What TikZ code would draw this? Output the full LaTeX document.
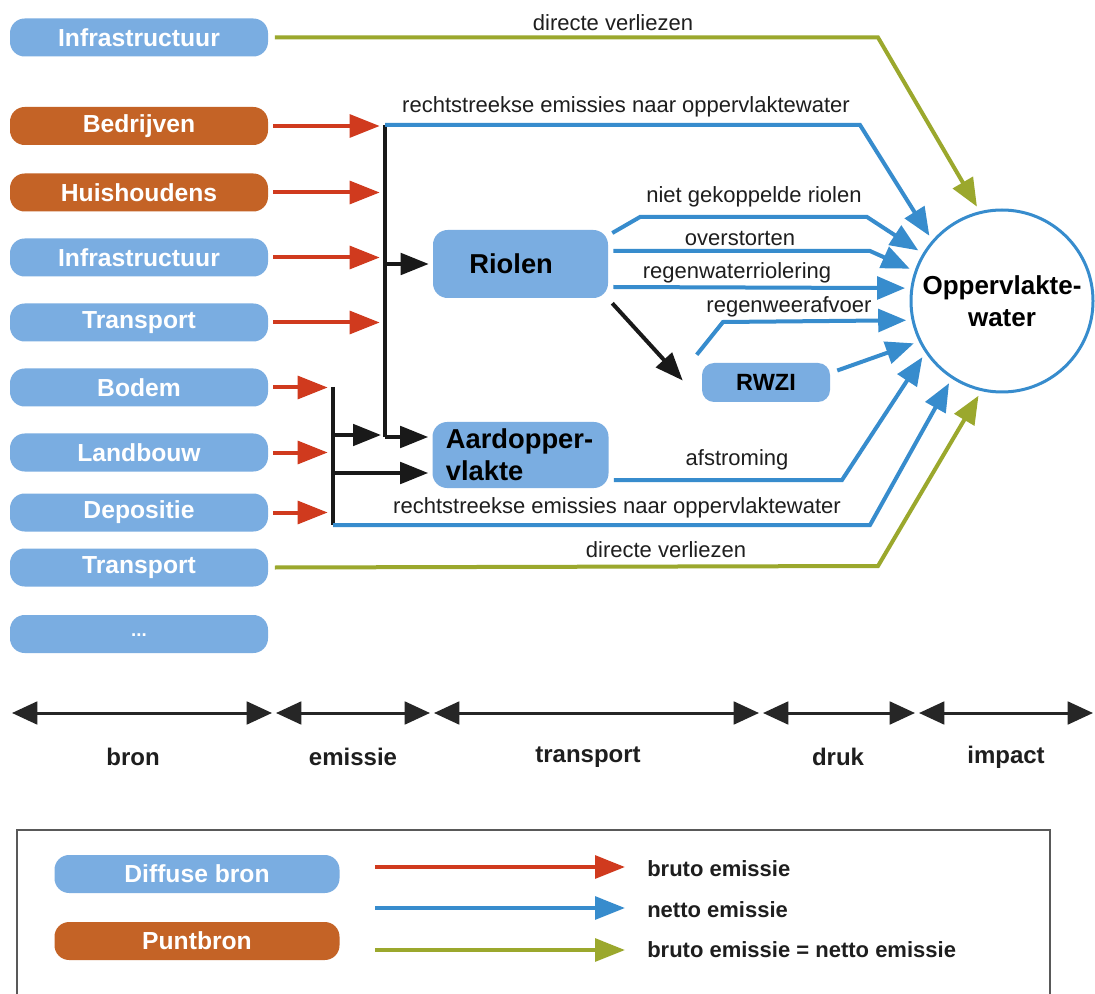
\documentclass[tikz,border=0pt]{standalone}
\usepackage{fontspec}
\setmainfont{Liberation Sans}
\usetikzlibrary{arrows.meta,calc}
\definecolor{boxblue}{RGB}{122,173,225}
\definecolor{ptorange}{RGB}{196,99,38}
\definecolor{lblue}{RGB}{55,140,205}
\definecolor{lred}{RGB}{208,58,30}
\definecolor{olive}{RGB}{155,168,45}
\definecolor{txt}{RGB}{30,30,30}
\begin{document}
\begin{tikzpicture}[x=0.75pt,y=-0.75pt,
  src/.style={rounded corners=11pt, minimum width=193.5pt, minimum height=28.5pt, inner sep=0pt, text=white, font=\fontsize{18.5}{20}\selectfont\bfseries},
  diff/.style={src, fill=boxblue},
  pnt/.style={src, fill=ptorange},
  proc/.style={fill=boxblue, rounded corners=11pt, inner sep=0pt, text=black},
  lab/.style={font=\fontsize{16.5}{18}\selectfont, text=txt, inner sep=0pt},
  redar/.style={draw=lred, line width=3pt, -{Triangle[length=22.5pt,width=17pt]}, shorten >=4pt},
  bluear/.style={draw=lblue, line width=3pt, -{Triangle[length=21pt,width=17pt]}, shorten >=4pt},
  greenar/.style={draw=olive, line width=3pt, -{Triangle[length=21pt,width=17pt]}, shorten >=4pt},
  blk/.style={draw=black!90, line width=3pt},
  blkar/.style={blk, -{Triangle[length=21pt,width=16pt]}, shorten >=3pt},
  tl/.style={draw=black!85, line width=2.25pt, {Triangle[length=19pt,width=17pt]}-{Triangle[length=19pt,width=17pt]}},
  tlab/.style={font=\fontsize{18}{20}\selectfont\bfseries, text=txt},
  ltext/.style={font=\fontsize{16.5}{18}\selectfont\bfseries, text=txt, anchor=west, inner sep=0pt}
]
\useasboundingbox (0,0) rectangle (1095,994);
\fill[white] (0,0) rectangle (1095,994);

% source boxes
\node[diff] (inf1) at (139,37.5) {Infrastructuur};
\node[pnt]  (bed)  at (139,126) {Bedrijven};
\node[pnt]  (hui)  at (139,192.5) {Huishoudens};
\node[diff] (inf2) at (139,257.5) {Infrastructuur};
\node[diff] (tra1) at (139,322.5) {Transport};
\node[diff] (bod)  at (139,387.5) {Bodem};
\node[diff] (lan)  at (139,452.5) {Landbouw};
\node[diff] (dep)  at (139,512.5) {Depositie};
\node[diff] (tra2) at (139,567.5) {Transport};
\node[diff] (dots) at (139,634) {\fontsize{14}{15}\selectfont\raisebox{-4pt}{...}};

% process nodes
\node[proc, minimum width=131.25pt, minimum height=51pt, font=\fontsize{20.5}{22}\selectfont\bfseries] (rio) at (520.5,264) {Riolen\hspace*{14pt}};
\node[proc, text width=112pt, inner xsep=10pt, minimum height=49.5pt, align=left, font=\fontsize{20.5}{24}\selectfont\bfseries] (aard) at (520.5,455) {Aardopper-\\vlakte};
\node[proc, rounded corners=9pt, minimum width=96pt, minimum height=29.25pt, font=\fontsize{17.6}{19}\selectfont\bfseries] (rwzi) at (766,382.5) {RWZI};
\node[circle, draw=lblue, line width=2.25pt, minimum size=136.5pt, inner sep=0pt, align=center, text=black, font=\fontsize{19.5}{24}\selectfont\bfseries] (circ) at (1002,301) {Oppervlakte-\\water};

% bus coordinates
\coordinate (aTop) at (385,125);
\coordinate (aBot) at (385,437);
\coordinate (bTop) at (333,387);
\coordinate (bBot) at (333,525);
\coordinate (bMid1) at (333,435);
\coordinate (bMid2) at (333,473);

% red arrows
\draw[redar] ([xshift=3.75pt]bed.east) -- (bed.east -| aTop);
\draw[redar] ([xshift=3.75pt]hui.east) -- (hui.east -| aTop);
\draw[redar] ([xshift=3.75pt]inf2.east) -- (inf2.east -| aTop);
\draw[redar] ([xshift=3.75pt]tra1.east) -- (tra1.east -| aTop);
\draw[redar] ([xshift=3.75pt]bod.east) -- (bod.east -| bTop);
\draw[redar] ([xshift=3.75pt]lan.east) -- (lan.east -| bTop);
\draw[redar] ([xshift=3.75pt]dep.east) -- (dep.east -| bTop);

% black buses
\draw[blk] (aTop) -- (aBot);
\draw[blk] (bTop) -- (bBot);
\draw[blkar] (rio.west -| aTop) -- (rio.west);
\draw[blkar] (aBot) -- (aBot -| aard.west);
\draw[blkar] (bMid1) -- (bMid1 -| aTop);
\draw[blkar] (bMid2) -- (bMid2 -| aard.west);
\draw[blkar, shorten >=0pt] ($(rio.south east)+(4,5)$) -- ($(rwzi.west)+(-19,-2)$);

% blue lines
\draw[bluear] (aTop) -- (860,125) -- (circ.139);
\draw[bluear] (bBot) -- (870,525) -- (circ.237);
\draw[bluear] ($(rio.east)+(4,-31)$) -- (640,217) -- (867,217) -- (circ.149);
\draw[bluear] ($(rio.east)+(5,-13)$) -- (870,251) -- (circ.161);
\draw[bluear] ($(rio.east)+(5,23)$) -- (circ.172);
\draw[bluear] ($(rwzi.north west)+(-5,-8)$) -- (723,322) -- (circ.192);
\draw[bluear] ($(rwzi.east)+(7,-12)$) -- (circ.206);
\draw[bluear] ($(aard.east)+(5,25)$) -- (842,480) -- (circ.214);

% green lines
\draw[greenar] ([xshift=5pt]inf1.east) -- (878,37.5) -- (circ.104);
\draw[greenar] ([xshift=5pt]tra2.east) -- (878,566) -- (circ.257);

% labels
\node[lab] (l1) at (613,23) {directe verliezen};
\node[lab] (l2) at (626,107) {rechtstreekse emissies naar oppervlaktewater};
\node[lab] (l3) at (754,197) {niet gekoppelde riolen};
\node[lab] (l4) at (740,238) {overstorten};
\node[lab] (l5) at (737,273) {regenwaterriolering};
\node[lab] (l6) at (789,307) {regenweerafvoer};
\node[lab] (l7) at (737,460) {afstroming};
\node[lab] (l8) at (617,508) {rechtstreekse emissies naar oppervlaktewater};
\node[lab] (l9) at (666,550) {directe verliezen};

% timeline
\coordinate (t0) at (12,713);
\coordinate (t1) at (272,713);
\coordinate (t1b) at (276,713);
\coordinate (t2) at (430,713);
\coordinate (t2b) at (434,713);
\coordinate (t3) at (759,713);
\coordinate (t3b) at (763,713);
\coordinate (t4) at (915,713);
\coordinate (t4b) at (919,713);
\coordinate (t5) at (1093,713);
\draw[tl] (t0) -- (t1);
\draw[tl] (t1b) -- (t2);
\draw[tl] (t2b) -- (t3);
\draw[tl] (t3b) -- (t4);
\draw[tl] (t4b) -- (t5);
\node[tlab] (pbron) at (133,757) {bron};
\node[tlab] (pemis) at (353,757) {emissie};
\node[tlab] (ptran) at (588,757) {transport};
\node[tlab] (pdruk) at (838,757) {druk};
\node[tlab] (pimp) at (1006,757) {impact};

% legend
\draw[line width=1.5pt, draw=black!65] (17,1000) -- (17,830) -- (1050,830) -- (1050,1000);
\node[diff, minimum width=213.75pt] (ldiff) at (197,874) {Diffuse bron};
\node[pnt, minimum width=213.75pt] (lpnt) at (197,941) {Puntbron};
\coordinate (la1) at (375,867);
\coordinate (la2) at (625,867);
\coordinate (lb1) at (375,908);
\coordinate (lb2) at (625,908);
\coordinate (lc1) at (375,950);
\coordinate (lc2) at (625,950);
\draw[redar, shorten >=0pt] (la1) -- (la2);
\draw[bluear, shorten >=0pt, -{Triangle[length=22.5pt,width=17pt]}] (lb1) -- (lb2);
\draw[greenar, shorten >=0pt, -{Triangle[length=22.5pt,width=17pt]}] (lc1) -- (lc2);
\node[ltext] (lt1) at (647,869) {bruto emissie};
\node[ltext] (lt2) at (647,910) {netto emissie};
\node[ltext] (lt3) at (647,950) {bruto emissie = netto emissie};
\end{tikzpicture}
\end{document}
